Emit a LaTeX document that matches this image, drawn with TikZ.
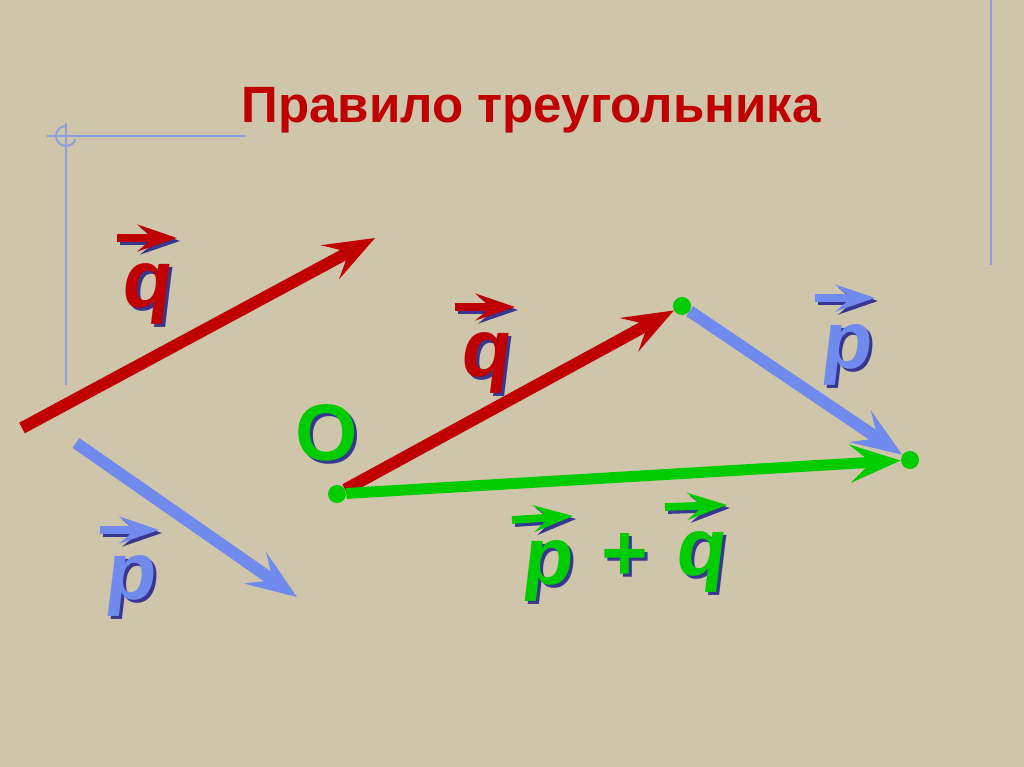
\documentclass[tikz,border=0pt]{standalone}
\usepackage{fontspec}
\setmainfont{Liberation Sans}
\newfontfamily\vecfont{Liberation Sans}[FakeSlant=0.12]
\usetikzlibrary{arrows.meta}
\definecolor{bg}{RGB}{206,197,171}
\definecolor{vred}{RGB}{192,0,0}
\definecolor{vblue}{RGB}{112,138,238}
\definecolor{vgreen}{RGB}{0,204,0}
\definecolor{shd}{RGB}{55,55,145}
\definecolor{rule}{RGB}{140,158,225}
\tikzset{>=Stealth,
  vec/.style={line width=8.5pt,-{Stealth[length=36pt,width=27pt,inset=15pt]}},
  bar/.style={line width=5.5pt,-{Stealth[length=28pt,width=19pt,inset=11pt]}},
  letter/.style={font=\fontsize{58}{64}\vecfont\bfseries,inner sep=0pt},
  upright/.style={font=\fontsize{57}{62}\selectfont\bfseries,inner sep=0pt},
  spot/.style={circle,inner sep=0pt,minimum size=12.8pt}}

\begin{document}
\begin{tikzpicture}[x=0.025cm,y=-0.025cm]
\fill[bg] (0,0) rectangle (1024,767);
\useasboundingbox (0,0) rectangle (1024,767);

\draw[rule,line width=1.4pt] (66,123) -- (66,385);
\draw[rule,line width=1.4pt] (47,136) -- (245,136);
\draw[rule,line width=1.4pt] (66,126) arc[start angle=90,end angle=340,radius=7.1pt];
\draw[rule,line width=1.4pt] (991,0) -- (991,265);

\node[font=\fontsize{36.3}{40}\selectfont\bfseries,text=vred,anchor=base] (title) at (531,123) {Правило треугольника};

\coordinate (q1) at (22,428);
\coordinate (q2) at (375,238);
\coordinate (p1) at (76,443);
\coordinate (p2) at (297,597);
\draw[vec,vred] (q1) -- (q2);
\draw[vec,vblue] (p1) -- (p2);

\draw[bar,shd] (120,241) -- (180,241);
\draw[bar,vred] (117,238) -- (177,238);
\node[letter,text=shd] (qLs) at (148,297) {q};
\node[letter,text=vred] (qL) at (145,294) {q};
\draw[bar,shd] (103,533) -- (162,533);
\draw[bar,vblue] (100,530) -- (159,530);
\node[letter,text=shd] (pLs) at (132,589) {p};
\node[letter,text=vblue] (pL) at (129,586) {p};

\node[spot] (O) at (337,494) {};
\node[spot] (A) at (682,306) {};
\node[spot] (B) at (910,460) {};
\draw[vec,vred] (O) -- (A);
\draw[vec,vblue] (A) -- (B);
\draw[vec,vgreen,line width=7.8pt] (O) -- (B);
\foreach \pt in {O,A,B}
  \fill[vgreen] (\pt.center) circle (6.4pt);

\node[upright,text=shd] (Os) at (330,436) {O};
\node[upright,text=vgreen] (Olab) at (327,433) {O};

\draw[bar,shd] (458,310) -- (518,310);
\draw[bar,vred] (455,307) -- (515,307);
\node[letter,text=shd] (qMs) at (487,366) {q};
\node[letter,text=vred] (qM) at (484,363) {q};

\draw[bar,shd] (818,301) -- (878,301);
\draw[bar,vblue] (815,298) -- (875,298);
\node[letter,text=shd] (pRs) at (848,358) {p};
\node[letter,text=vblue] (pR) at (845,355) {p};

\draw[bar,shd] (515,523) -- (576,519);
\draw[bar,vgreen] (512,520) -- (573,516);
\node[letter,text=shd] (pSs) at (549,574) {p};
\node[letter,text=vgreen] (pS) at (546,571) {p};
\node[upright,text=shd] (plss) at (628,560) {+};
\node[upright,text=vgreen] (pls) at (625,557) {+};
\draw[bar,shd] (668,510) -- (730,508);
\draw[bar,vgreen] (665,507) -- (727,505);
\node[letter,text=shd] (qSs) at (702,565) {q};
\node[letter,text=vgreen] (qS) at (699,562) {q};
\end{tikzpicture}
\end{document}
